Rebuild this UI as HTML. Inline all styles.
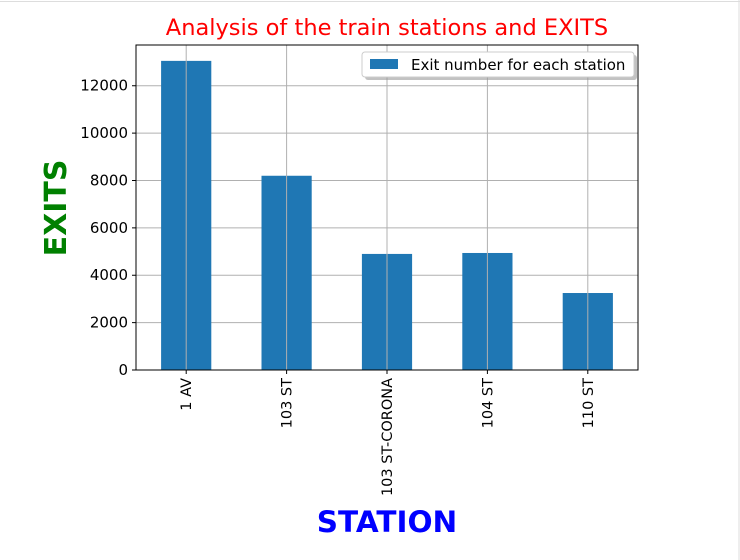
<!DOCTYPE html>
<html><head><meta charset="utf-8"><style>
body{margin:0;background:#fff;}
svg{display:block;font-family:"DejaVu Sans","Liberation Sans",sans-serif;}
</style></head><body>
<svg id="chart" width="740" height="560" xmlns="http://www.w3.org/2000/svg">
<line x1="0" y1="1.5" x2="740" y2="1.5" stroke="#ddd"/>
<line x1="739" y1="0" x2="739" y2="560" stroke="#ddd"/>
<g id="grid"></g><g id="bars"></g><g id="axes"></g>
<text x="387" y="35" text-anchor="middle" font-size="22.5" fill="red">Analysis of the train stations and EXITS</text>
<text x="387" y="532" text-anchor="middle" font-size="29.5" font-weight="bold" fill="blue">STATION</text>
<text transform="translate(66,208) rotate(-90)" text-anchor="middle" font-size="30" font-weight="bold" fill="green">EXITS</text>
<g>
<rect x="365" y="55" width="272" height="25" fill="#999" rx="3" opacity="0.6"/>
<rect x="362" y="52" width="272" height="25" fill="#fff" stroke="#ccc" rx="3"/>
<rect x="370" y="59" width="28" height="10" fill="#1f77b4"/>
<text x="411" y="70" font-size="15" fill="#000">Exit number for each station</text>
</g>
</svg>
<script>
const categories=["1 AV","103 ST","103 ST-CORONA","104 ST","110 ST"];
const exits=[13050,8200,4900,4940,3250];
const yTicks=[0,2000,4000,6000,8000,10000,12000];
const L=136,R=638,T=45,B=370,yMax=13720;
const NS="http://www.w3.org/2000/svg";
function y(v){return B-(v/yMax)*(B-T);}
function xc(i){return L+(i+0.5)*(R-L)/categories.length;}
function mk(tag,attrs,parent,txt){const e=document.createElementNS(NS,tag);for(const k in attrs)e.setAttribute(k,attrs[k]);if(txt!=null)e.textContent=txt;parent.appendChild(e);return e;}
const grid=document.getElementById('grid'),bars=document.getElementById('bars'),axes=document.getElementById('axes');
const bw=(R-L)/categories.length*0.5;
categories.forEach((c,i)=>{
  const b=mk('rect',{x:xc(i)-bw/2,y:y(exits[i]),width:bw,height:B-y(exits[i]),fill:'#1f77b4'},bars);
  
  
  const g=mk('line',{x1:xc(i),x2:xc(i),y1:T,y2:B,stroke:'#b0b0b0','stroke-width':1},axes);
  
  
  mk('line',{x1:xc(i),x2:xc(i),y1:B,y2:B+4,stroke:'#000'},axes);
  const t=mk('text',{transform:`translate(${xc(i)+5},${B+8}) rotate(-90)`,'text-anchor':'end','font-size':14.5},axes,c);
  
  
});
yTicks.forEach(v=>{
  const g=mk('line',{x1:L,x2:R,y1:y(v),y2:y(v),stroke:'#b0b0b0','stroke-width':1},grid);
  
  
  mk('line',{x1:L-4,x2:L,y1:y(v),y2:y(v),stroke:'#000'},axes);
  const t=mk('text',{x:L-8,y:y(v)+5,'text-anchor':'end','font-size':15},axes,v);
  
  
});
const f=mk('rect',{x:L,y:T,width:R-L,height:B-T,fill:'none',stroke:'#000','stroke-width':1},axes);


</script>
</body></html>
